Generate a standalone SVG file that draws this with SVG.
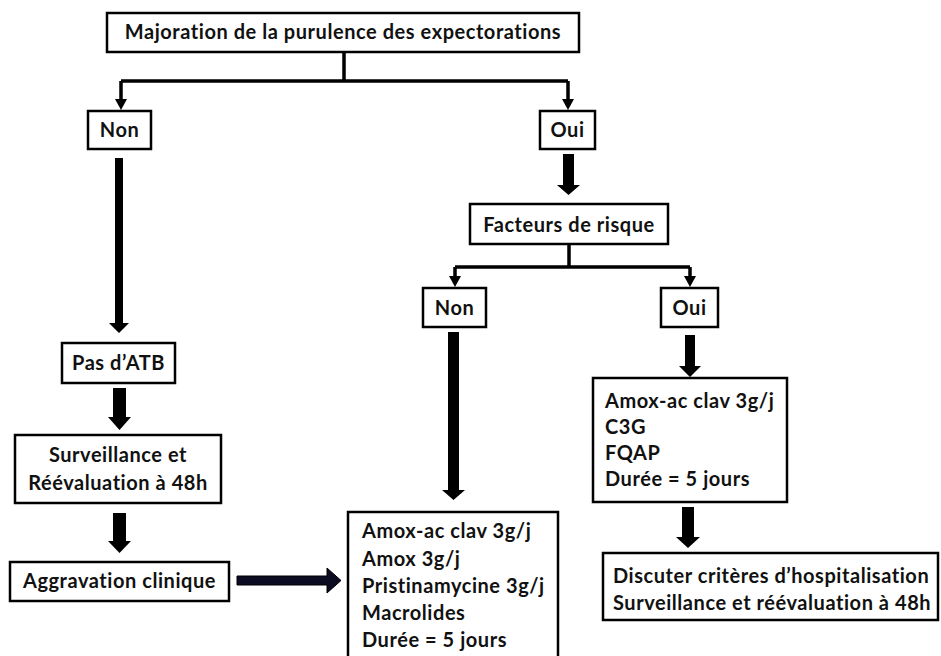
<svg xmlns="http://www.w3.org/2000/svg" width="941" height="656" viewBox="0 0 941 656">
<style>
.box{fill:#fff;stroke:#000;stroke-width:2.5}
.t{font-family:Lato,"Liberation Sans",sans-serif;font-weight:700;font-size:20px;letter-spacing:0.55px;fill:#111}
.c{text-anchor:middle}
.ln{fill:none;stroke:#000;stroke-width:3.5}
.ah{fill:#000}
.big{fill:#000}
</style>
<rect width="941" height="656" fill="#fff"/>
<g id="connectors">
<path class="ln" d="M344,52V81M121,81H568M121,81V100M568,81V100"/>
<polygon class="ah" points="115,99 127,99 121,110"/>
<polygon class="ah" points="562,99 574,99 568,110"/>
<path class="ln" d="M569,244V267M455,267H690M455,267V277M690,267V277"/>
<polygon class="ah" points="449,276 461,276 455,287"/>
<polygon class="ah" points="684,276 696,276 690,287"/>
<polygon class="big" points="115,158 123,158 123,323 129,323 119,333 109,323 115,323"/>
<polygon class="big" points="113,388 126,388 126,417 131,417 119.5,430 108,417 113,417"/>
<polygon class="big" points="113,513 126,513 126,541 131,541 119.5,553 108,541 113,541"/>
<polygon class="big" points="563,154 574,154 574,185 580,185 568.5,195 557,185 563,185"/>
<polygon class="big" points="448,332 459,332 459,490 465,490 453.5,500 442,490 448,490"/>
<polygon class="big" points="685,335 695,335 695,366 701,366 690,377 679,366 685,366"/>
<polygon class="big" points="682,507 694,507 694,537 700,537 688,548 676,537 682,537"/>
<polygon points="237,576 327,576 327,568 341,580.5 327,593 327,585 237,585" fill="#0b0b22" stroke="#000" stroke-width="1"/>
</g>
<g id="top"><rect class="box" x="107" y="13" width="472" height="39"/><text class="t c" x="343" y="39">Majoration de la purulence des expectorations</text></g>
<g id="non1"><rect class="box" x="88" y="111" width="63" height="38"/><text class="t c" x="119.5" y="137">Non</text></g>
<g id="oui1"><rect class="box" x="540" y="111" width="55" height="38"/><text class="t c" x="567.5" y="137">Oui</text></g>
<g id="pasatb"><rect class="box" x="62" y="343" width="113" height="40"/><text class="t c" x="118.5" y="370">Pas d’ATB</text></g>
<g id="surveillance"><rect class="box" x="15" y="435" width="206" height="68"/><text class="t c" x="118" y="462">Surveillance et</text><text class="t c" x="118" y="490">Réévaluation à 48h</text></g>
<g id="aggravation"><rect class="box" x="10" y="562" width="219" height="39"/><text class="t c" x="119.5" y="588">Aggravation clinique</text></g>
<g id="facteurs"><rect class="box" x="470" y="204" width="198" height="40"/><text class="t c" x="569" y="232">Facteurs de risque</text></g>
<g id="non2"><rect class="box" x="423" y="288" width="63" height="39"/><text class="t c" x="454.5" y="315">Non</text></g>
<g id="oui2"><rect class="box" x="661" y="288" width="57" height="39"/><text class="t c" x="689.5" y="315">Oui</text></g>
<g id="traitement-sans-risque"><rect class="box" x="348" y="512" width="210" height="150"/>
<text class="t" x="362" y="538">Amox-ac clav 3g/j</text>
<text class="t" x="362" y="566">Amox 3g/j</text>
<text class="t" x="362" y="593">Pristinamycine 3g/j</text>
<text class="t" x="362" y="620">Macrolides</text>
<text class="t" x="362" y="647">Durée = 5 jours</text></g>
<g id="traitement-risque"><rect class="box" x="593" y="378" width="194" height="124"/>
<text class="t" x="605" y="408">Amox-ac clav 3g/j</text>
<text class="t" x="605" y="434">C3G</text>
<text class="t" x="605" y="460">FQAP</text>
<text class="t" x="605" y="486">Durée = 5 jours</text></g>
<g id="hospitalisation"><rect class="box" x="603" y="553" width="335" height="67"/>
<text class="t" x="613" y="583">Discuter critères d’hospitalisation</text>
<text class="t" x="613" y="610">Surveillance et réévaluation à 48h</text></g>
</svg>
